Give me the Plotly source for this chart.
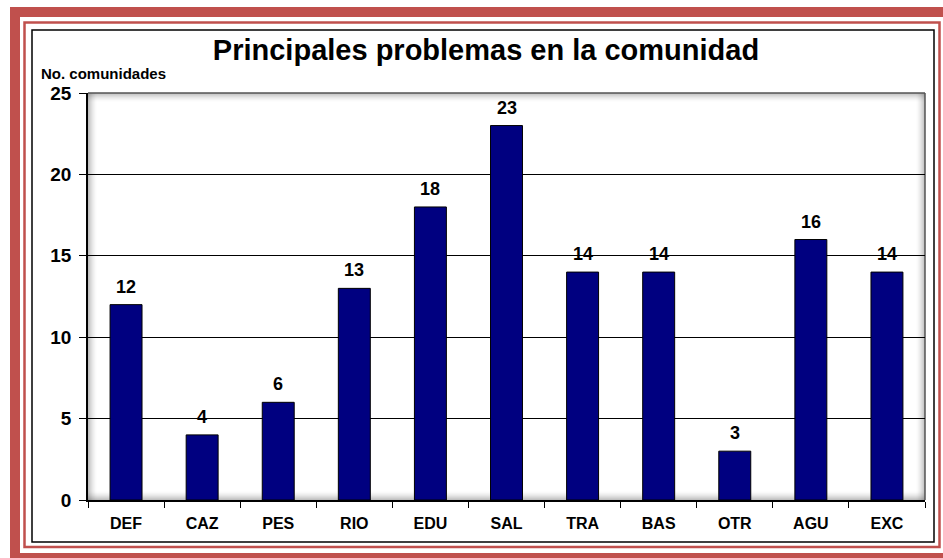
import plotly.graph_objects as go

# Data
categories = ["DEF", "CAZ", "PES", "RIO", "EDU", "SAL", "TRA", "BAS", "OTR", "AGU", "EXC"]
values = [12, 4, 6, 13, 18, 23, 14, 14, 3, 16, 14]
y_ticks = [0, 5, 10, 15, 20, 25]

W, H = 943, 558
L, R, T, B = 88, 925, 93, 500  # plot area in pixels


def px(x):
    return (x - L) / (R - L)


def py(y):
    return (B - y) / (B - T)


FONT = "Liberation Sans, Arial, sans-serif"

fig = go.Figure(
    go.Bar(
        x=categories,
        y=values,
        marker=dict(color="#000080", line=dict(color="#000000", width=1)),
        cliponaxis=False,
        width=0.42,
    )
)

# value labels above each bar
annotations = [
    dict(x=c, y=v, xref="x", yref="y", text=f"<b>{v}</b>", showarrow=False,
         yanchor="bottom", yshift=6,
         font=dict(family=FONT, size=18, color="#000000"))
    for c, v in zip(categories, values)
]
annotations.append(dict(
    text="<b>No. comunidades</b>", xref="paper", yref="paper",
    x=px(39), y=py(73), xanchor="left", yanchor="middle",
    showarrow=False, font=dict(family=FONT, size=15, color="#000000"),
))

shapes = []


def rect(x0, y0, x1, y1, line_color=None, line_width=0, fill=None, layer="above"):
    shapes.append(dict(
        type="rect", xref="paper", yref="paper",
        x0=px(x0), x1=px(x1), y0=py(y0), y1=py(y1),
        line=dict(color=line_color or "rgba(0,0,0,0)", width=line_width),
        fillcolor=fill or "rgba(0,0,0,0)", layer=layer,
    ))


# decorative red frame and black chart border
rect(15, 12, 948, 558, line_color="#c0504d", line_width=10)
rect(24.5, 22.5, 939.5, 547, line_color="#c0504d", line_width=2.5)
rect(32, 30, 934, 542, line_color="#000000", line_width=1.5)

# soft inner shadow around the plot area
n = 9
for i in range(n):
    a = 0.32 * (1 - i / n) ** 1.6
    c = f"rgba(60,60,60,{a:.3f})"
    rect(L, T + i, R, T + i + 1, fill=c, layer="between")          # top
    rect(R - i - 1, T, R - i, B, fill=c, layer="between")          # right
    rect(L + i, T, L + i + 1, B, fill=c, layer="between")          # left
    rect(L, B - i - 1, R, B - i, fill=c, layer="between")          # bottom
shapes.append(dict(type="line", xref="paper", yref="paper", x0=0, x1=1, y0=1, y1=1,
                   line=dict(color="#555555", width=1.5), layer="between"))
shapes.append(dict(type="line", xref="paper", yref="paper", x0=1, x1=1, y0=0, y1=1,
                   line=dict(color="#555555", width=1.5), layer="between"))

fig.update_layout(
    width=W, height=H,
    margin=dict(l=L, r=W - R, t=T, b=H - B),
    paper_bgcolor="#ffffff",
    plot_bgcolor="#ffffff",
    showlegend=False,
    shapes=shapes,
    annotations=annotations,
    font=dict(family=FONT, color="#000000"),
    title=dict(
        text="<b>Principales problemas en la comunidad</b>",
        font=dict(family=FONT, size=29, color="#000000"),
        x=486 / W, xanchor="center",
        y=1 - 50 / H, yanchor="middle",
    ),
    xaxis=dict(
        type="category",
        tickson="boundaries",
        ticks="outside", ticklen=6, tickcolor="#000000", tickwidth=1.2,
        showline=True, linecolor="#000000", linewidth=1.5,
        showgrid=False,
        tickfont=dict(family=FONT, size=16, color="#000000"),
        tickprefix="<b>", ticksuffix="</b>",
        ticklabelstandoff=8,
        range=[-0.5, len(categories) - 0.5],
    ),
    yaxis=dict(
        range=[0, 25],
        tickvals=y_ticks,
        ticktext=[f"<b>{v}</b>" for v in y_ticks],
        ticks="outside", ticklen=7, tickcolor="#000000", tickwidth=1.2,
        showline=True, linecolor="#000000", linewidth=1.5,
        showgrid=True, gridcolor="#000000", gridwidth=1,
        zeroline=False,
        tickfont=dict(family=FONT, size=19, color="#000000"),
        ticklabelstandoff=4,
    ),
)

fig.write_html("out.html")
